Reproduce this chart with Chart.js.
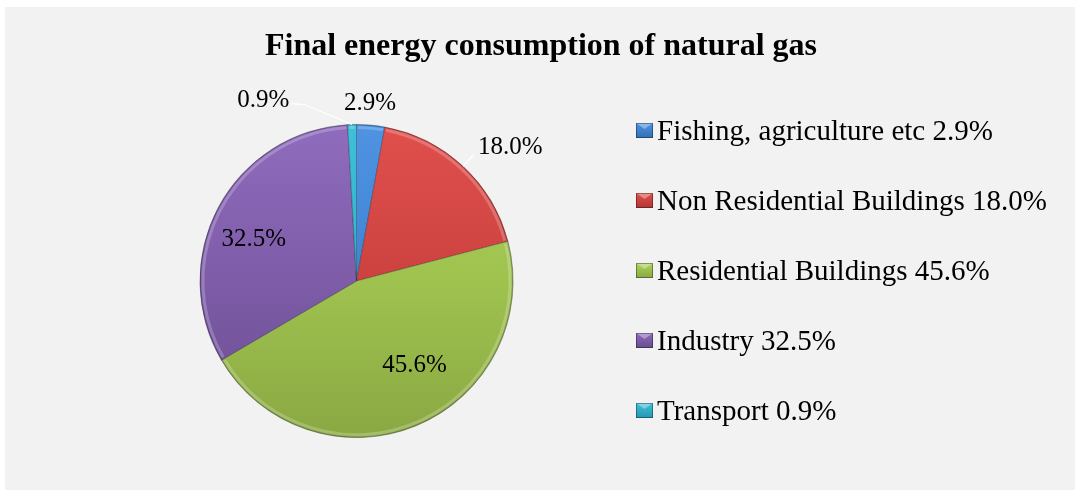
<!DOCTYPE html>
<html>
<head>
<meta charset="utf-8">
<script src="https://cdn.jsdelivr.net/npm/chart.js@4.4.0/dist/chart.umd.min.js"></script>
<style>
  html, body { margin: 0; padding: 0; background: #ffffff; }
  #wrap { width: 1075px; height: 490px; position: relative; }
</style>
</head>
<body>
<div id="wrap"><canvas id="c" width="1075" height="490"></canvas></div>
<script>
// ---- data ----
const titleText = "Final energy consumption of natural gas";
const categories = ["Fishing, agriculture etc", "Non Residential Buildings", "Residential Buildings", "Industry", "Transport"];
const shares = [2.9, 18.0, 45.6, 32.5, 0.9];
const valueLabels = ["2.9%", "18.0%", "45.6%", "32.5%", "0.9%"];

// ---- styles ----
const topColors = ["#4f93e2", "#e0504d", "#aed35c", "#8f6cbd", "#3fc0da"];
const midColors = ["#3f84d4", "#cc423f", "#9fc24f", "#7e5ca8", "#30b1cc"];
const botColors = ["#336fb5", "#b23634", "#8aa843", "#694c8f", "#2597b0"];
// label placement: [radius factor, angle shift in degrees, leader type]
const labelPlace = [[1.137, -0.9, 0], [1.30, 6.2, 1], [0.656, -11.9, 0], [0.707, -6.3, 0], [1.297, -25.7, 2]];
const serif = '"Liberation Serif", "Times New Roman", serif';

function sliceGradient(ctx) {
  const chart = ctx.chart;
  const area = chart.chartArea;
  if (!area) return midColors[ctx.dataIndex];
  const g = chart.ctx.createLinearGradient(0, area.top, 0, area.bottom);
  const i = ctx.dataIndex;
  g.addColorStop(0, topColors[i]);
  g.addColorStop(0.5, midColors[i]);
  g.addColorStop(1, botColors[i]);
  return g;
}

const bgPlugin = {
  id: 'bg',
  beforeDraw(chart) {
    const c = chart.ctx;
    c.save();
    c.fillStyle = '#ffffff';
    c.fillRect(0, 0, chart.width, chart.height);
    c.fillStyle = '#f2f2f2';
    c.fillRect(5, 7, chart.width - 5, chart.height - 7);
    c.restore();
  }
};

const bevelPlugin = {
  id: 'bevel',
  afterDatasetsDraw(chart) {
    const c = chart.ctx;
    const meta = chart.getDatasetMeta(0);
    c.save();
    meta.data.forEach((arc) => {
      const p = arc.getProps(['x', 'y', 'startAngle', 'endAngle', 'outerRadius']);
      c.beginPath();
      c.arc(p.x, p.y, p.outerRadius - 3, p.startAngle + 0.01, p.endAngle - 0.01);
      c.strokeStyle = 'rgba(255,255,255,0.22)';
      c.lineWidth = 3;
      c.stroke();
      c.beginPath();
      c.arc(p.x, p.y, p.outerRadius - 0.5, p.startAngle, p.endAngle);
      c.strokeStyle = 'rgba(0,0,0,0.15)';
      c.lineWidth = 1.2;
      c.stroke();
    });
    c.restore();
  }
};

const labelPlugin = {
  id: 'labels',
  afterDraw(chart) {
    const c = chart.ctx;
    const meta = chart.getDatasetMeta(0);
    c.save();
    c.font = '25px ' + serif;
    c.fillStyle = '#000000';
    c.textAlign = 'center';
    c.textBaseline = 'middle';
    meta.data.forEach((arc, i) => {
      const p = arc.getProps(['x', 'y', 'startAngle', 'endAngle', 'outerRadius']);
      const mid = (p.startAngle + p.endAngle) / 2;
      const pl = labelPlace[i];
      const a = mid + pl[1] * Math.PI / 180;
      const r = p.outerRadius * pl[0];
      const lx = p.x + Math.cos(a) * r;
      const ly = p.y + Math.sin(a) * r;
      const ex = p.x + Math.cos(mid) * p.outerRadius;
      const ey = p.y + Math.sin(mid) * p.outerRadius;
      c.strokeStyle = '#ffffff';
      c.lineWidth = 1.2;
      if (pl[2] === 1) {
        c.beginPath();
        c.moveTo(ex, ey);
        c.lineTo(ex + Math.cos(mid) * 16, ey + Math.sin(mid) * 16);
        c.stroke();
      } else if (pl[2] === 2) {
        const w = c.measureText(valueLabels[i]).width;
        const sx = lx + w / 2 + 2;
        c.beginPath();
        c.moveTo(sx, ly + 3);
        c.lineTo(sx + 13, ly + 4);
        c.lineTo(ex, ey);
        c.stroke();
      }
      c.fillText(valueLabels[i], lx, ly);
    });

    // title
    c.font = 'bold 32px ' + serif;
    c.fillText(titleText, 541, 47);

    // legend
    c.textAlign = 'left';
    c.font = '29px ' + serif;
    categories.forEach((cat, i) => {
      const y = 131 + i * 70;
      const mx = 636, my = y - 8, mw = 17, mh = 15;
      const g = c.createLinearGradient(0, my, 0, my + mh);
      g.addColorStop(0, topColors[i]);
      g.addColorStop(1, botColors[i]);
      c.fillStyle = g;
      c.fillRect(mx, my, mw, mh);
      c.fillStyle = 'rgba(255,255,255,0.35)';
      c.beginPath();
      c.moveTo(mx, my); c.lineTo(mx + mw, my); c.lineTo(mx + mw / 2, my + 6); c.closePath();
      c.fill();
      c.strokeStyle = 'rgba(0,0,0,0.35)';
      c.lineWidth = 1;
      c.strokeRect(mx + 0.5, my + 0.5, mw - 1, mh - 1);
      c.fillStyle = '#000000';
      c.fillText(cat + ' ' + valueLabels[i], 657, y + 1);
    });
    c.restore();
  }
};

new Chart(document.getElementById('c'), {
  type: 'pie',
  data: {
    labels: categories,
    datasets: [{
      data: shares,
      backgroundColor: sliceGradient,
      borderColor: 'rgba(30,30,40,0.4)',
      borderWidth: 0.8
    }]
  },
  options: {
    responsive: false,
    animation: false,
    devicePixelRatio: 1,
    layout: { padding: { left: 199.5, right: 561.5, top: 124, bottom: 52 } },
    plugins: { legend: { display: false }, tooltip: { enabled: false }, title: { display: false } }
  },
  plugins: [bgPlugin, bevelPlugin, labelPlugin]
});
</script>
</body>
</html>
